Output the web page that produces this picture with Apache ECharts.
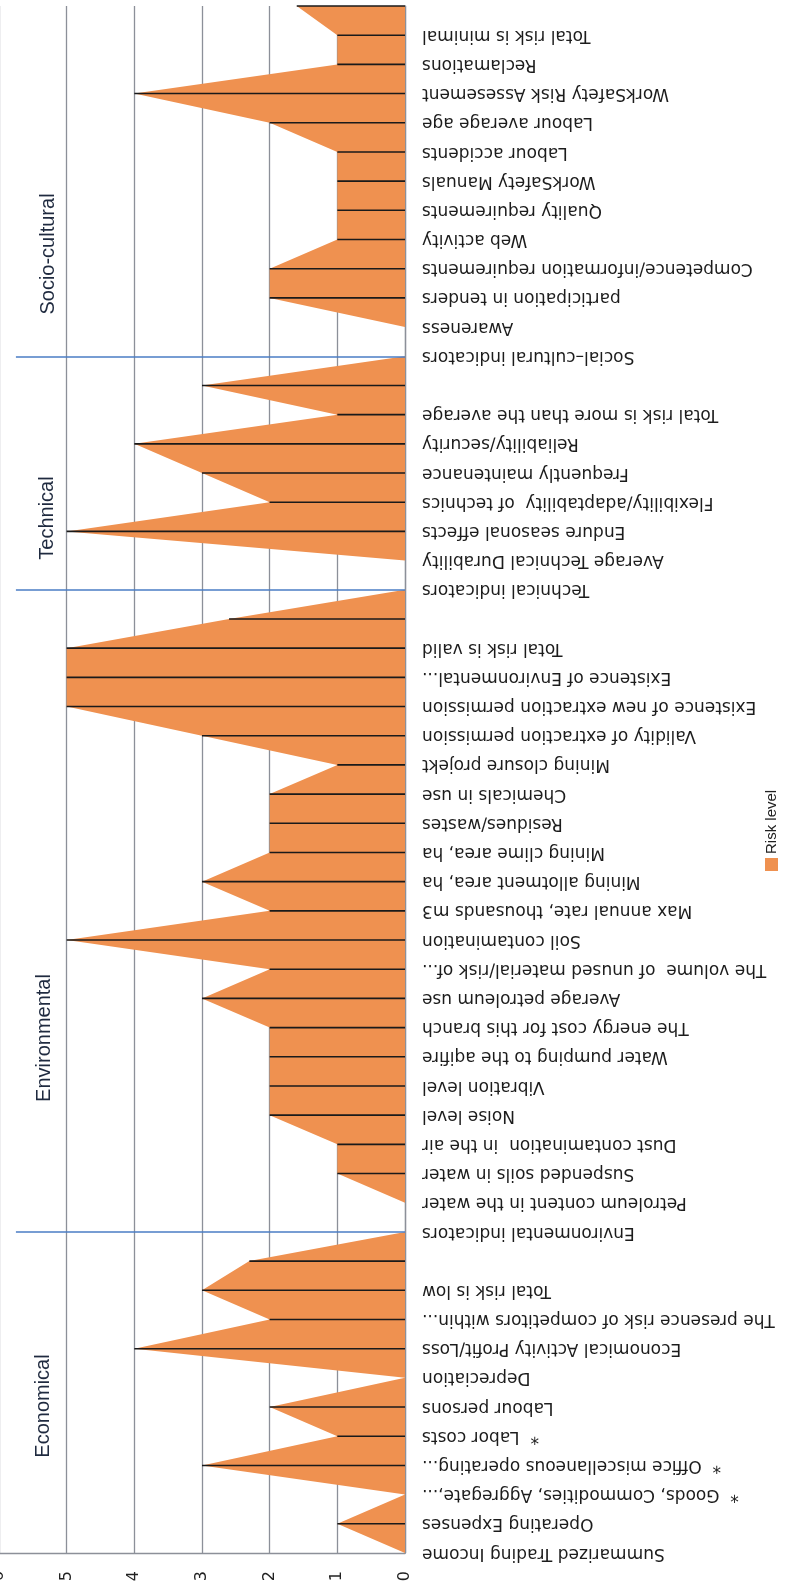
<!DOCTYPE html>
<html>
<head>
<meta charset="utf-8">
<script src="https://cdn.jsdelivr.net/npm/echarts@6/dist/echarts.min.js"></script>
<style>
  html, body { margin: 0; padding: 0; background: #fff; }
  #chart { width: 789px; height: 1590px; }
</style>
</head>
<body>
<div id="chart"></div>
<script>
// indicators, bottom to top
const categories = [
  'Summarized Trading Income',
  'Operating Expenses',
  '*  Goods, Commodities, Aggregate,...',
  '*  Office miscellaneous operating...',
  '*  Labor costs',
  'Labour persons',
  'Depreciation',
  'Economical Activity Profit/Loss',
  'The presence risk of competitors within...',
  'Total risk is low',
  '',
  'Environmental indicators',
  'Petroleum content in the water',
  'Suspended soils in water',
  'Dust contamination  in the air',
  'Noise level',
  'Vibration level',
  'Water pumping to the aqifire',
  'The energy cost for this branch',
  'Average petroleum use',
  'The volume  of unused material/risk of...',
  'Soil contamination',
  'Max annual rate, thousands m3',
  'Mining allotment area, ha',
  'Mining clime area, ha',
  'Residues/wastes',
  'Chemicals in use',
  'Mining closure projekt',
  'Validity of extraction permission',
  'Existence of new extraction permission',
  'Existence of Environmental...',
  'Total risk is valid',
  '',
  'Technical indicators',
  'Average Technical Durability',
  'Endure seasonal effects',
  'Flexibility/adaptability  of technics',
  'Frequently maintenance',
  'Reliability/security',
  'Total risk is more than the average',
  '',
  'Social\u2013cultural indicators',
  'Awareness',
  'participation in tenders',
  'Competence/information requirements',
  'Web activity',
  'Quality requirements',
  'WorkSafety Manuals',
  'Labour accidents',
  'Labour average age',
  'WorkSafety Risk Assesement',
  'Reclamations',
  'Total risk is minimal',
  ''
];

const riskLevel = [
  0, 1, 0, 3, 1, 2, 0, 4, 2, 3, 2.3, 0,
  0, 1, 1, 2, 2, 2, 2, 3, 2, 5, 2, 3, 2, 2, 2, 1, 3, 5, 5, 5, 2.6, 0,
  0, 5, 2, 3, 4, 1, 3, 0,
  0, 2, 2, 1, 1, 1, 1, 2, 4, 1, 1, 1.6
];

const sectionStarts = ['Environmental indicators', 'Technical indicators', 'Social\u2013cultural indicators'];
const sectionNames = ['Economical', 'Environmental', 'Technical', 'Socio-cultural'];
const sectionPos = [[43, 1406], [44, 1038], [47, 518], [48, 254]];

const chart = echarts.init(document.getElementById('chart'));

const gridColor = '#8c9099';
const orange = '#EF9150';

const option = {
  animation: false,
  backgroundColor: '#fff',
  grid: {
    left: -1,
    right: 384,
    top: 6,
    bottom: 37,
    outerBoundsMode: 'none'
  },
  xAxis: {
    type: 'value',
    inverse: true,
    min: 0,
    max: 6,
    interval: 1,
    axisLine: { show: true, lineStyle: { color: gridColor, width: 1.3 } },
    axisTick: { show: false },
    splitLine: { show: true, lineStyle: { color: gridColor, width: 1.3 } },
    axisLabel: {
      rotate: 90,
      margin: 18,
      fontFamily: 'DejaVu Sans',
      fontSize: 16,
      color: '#222'
    }
  },
  yAxis: {
    type: 'category',
    position: 'right',
    boundaryGap: false,
    data: categories,
    axisLine: { show: true, lineStyle: { color: gridColor, width: 1.3 } },
    axisTick: { show: false },
    splitLine: { show: false },
    axisLabel: {
      interval: 0,
      rotate: 180,
      margin: 17,
      fontFamily: 'DejaVu Sans',
      fontSize: 17,
      color: '#1c1c1c'
    }
  },
  series: [
    {
      name: 'Risk level',
      type: 'line',
      data: riskLevel,
      symbol: 'none',
      lineStyle: { width: 0 },
      itemStyle: { color: orange },
      areaStyle: { color: orange, opacity: 1 },
      z: 2,
      markLine: {
        silent: true,
        symbol: 'none',
        label: { show: false },
        lineStyle: { color: '#4a7cc4', width: 1.5, type: 'solid' },
        data: sectionStarts.map(function (c) {
          return [{ coord: [5.75, c] }, { coord: [0, c] }];
        })
      }
    },
    {
      name: 'drop',
      type: 'bar',
      data: riskLevel,
      barWidth: 1.6,
      itemStyle: { color: '#1a1a1a' },
      z: 3
    }
  ],
  graphic: sectionNames.map(function (name, i) {
    return {
      type: 'text',
      x: sectionPos[i][0],
      y: sectionPos[i][1],
      rotation: Math.PI / 2,
      style: {
        text: name,
        font: '20px "Liberation Sans"',
        fill: '#1f2a3f',
        textAlign: 'center',
        textVerticalAlign: 'middle'
      }
    };
  }).concat([
    {
      type: 'rect',
      shape: { x: 765, y: 858, width: 13, height: 13 },
      style: { fill: orange }
    },
    {
      type: 'text',
      x: 772,
      y: 854,
      rotation: Math.PI / 2,
      style: {
        text: 'Risk level',
        font: '15px "Liberation Sans"',
        fill: '#222',
        textAlign: 'left',
        textVerticalAlign: 'middle'
      }
    }
  ])
};

chart.setOption(option);
</script>
</body>
</html>
